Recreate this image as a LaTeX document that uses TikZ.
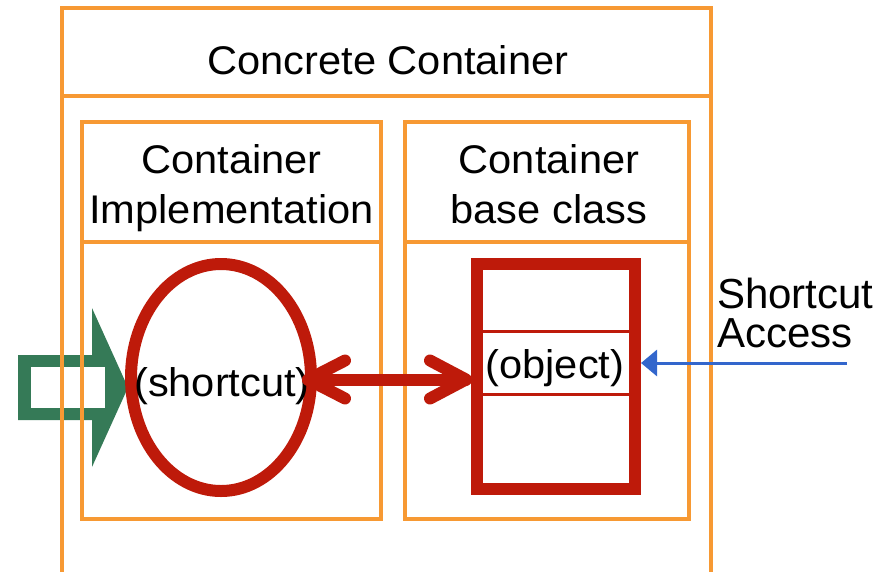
\documentclass[tikz,border=0pt]{standalone}
\usepackage{fontspec}
\setmainfont{Liberation Sans}
\usetikzlibrary{arrows.meta,calc,shapes.geometric}
\definecolor{boxorange}{RGB}{247,153,51}
\definecolor{accred}{RGB}{190,26,10}
\definecolor{pathgreen}{RGB}{53,122,87}
\definecolor{linkblue}{RGB}{51,102,204}
\begin{document}
\begin{tikzpicture}[x=1pt,y=-1pt,
  obox/.style={draw=boxorange,line width=3.2pt,inner sep=0pt,outer sep=0pt,anchor=north west},
  oline/.style={draw=boxorange,line width=3.2pt},
  lbl/.style={inner sep=0pt,align=center,font=\fontsize{40}{50}\selectfont,xscale=1.04},
  redbox/.style={draw=accred,line width=12pt,inner sep=0pt,outer sep=0pt},
  redthin/.style={draw=accred,line width=3pt},
  dblarrow/.style={draw=accred,line width=12pt,line cap=round,line join=round},
  bluearrow/.style={draw=linkblue,line width=3pt,-{Triangle[length=16pt,width=26pt]}}
]
\useasboundingbox (0,0) rectangle (890,571);
\clip (0,0) rectangle (890,571);

% entry arrow on the left (hollow block arrow)
\fill[pathgreen] (18,355) -- (92,355) -- (92,308) -- (128,387.5) -- (92,467)
  -- (92,420) -- (18,420) -- cycle;
\fill[white] (31,367) rectangle (105,408);

% concrete container frame and its title row
\node[obox,minimum width=649pt,minimum height=600pt] (outer) at (62,8) {};
\draw[oline] (outer.west |- 0,96) -- (outer.east |- 0,96);
\node[lbl,anchor=base] (title) at (388,74) {Concrete Container};

% container implementation compartment
\node[obox,minimum width=299pt,minimum height=397pt] (impl) at (82,122) {};
\draw[oline] (impl.west |- 0,242) -- (impl.east |- 0,242);
\node[lbl,anchor=base] (impltxt) at (231.5,223) {Container\\Implementation};

% container base class compartment
\node[obox,minimum width=284pt,minimum height=397pt] (base) at (405,122) {};
\draw[oline] (base.west |- 0,242) -- (base.east |- 0,242);
\node[lbl,anchor=base] (basetxt) at (549,223) {Container\\base class};

% shortcut ellipse
\node[ellipse,redbox,minimum width=180pt,minimum height=227pt] (ell) at (221,377.5) {};
\node[lbl,anchor=base] (sctxt) at (222,396) {(shortcut)};

% object record
\node[redbox,minimum width=158pt,minimum height=225pt] (obj) at (556,376.5) {};
\draw[redthin] ([xshift=6pt]obj.west |- 0,331) -- ([xshift=-6pt]obj.east |- 0,331);
\draw[redthin] ([xshift=6pt]obj.west |- 0,394) -- ([xshift=-6pt]obj.east |- 0,394);
\node[lbl,anchor=base] (objtxt) at (555,378) {(object)};

% two-way link between shortcut and object
\coordinate (pl) at ($(ell.east)+(-3,2)$);
\coordinate (pr) at ($(obj.west)+(-11,3)$);
\draw[dblarrow] (pl) -- (pr);
\draw[dblarrow] ($(pl)+(37,-19)$) -- (pl) -- ($(pl)+(37,19)$);
\draw[dblarrow] ($(pr)+(-36,-19)$) -- (pr) -- ($(pr)+(-36,19)$);

% shortcut access from outside
\coordinate (sa) at (847,363);
\draw[bluearrow] (sa) -- ([xshift=6pt]obj.east |- sa);
\node[inner sep=0pt,align=left,anchor=base west,font=\fontsize{42}{39}\selectfont] (acc) at (717,347) {Shortcut\\Access};
\end{tikzpicture}
\end{document}
